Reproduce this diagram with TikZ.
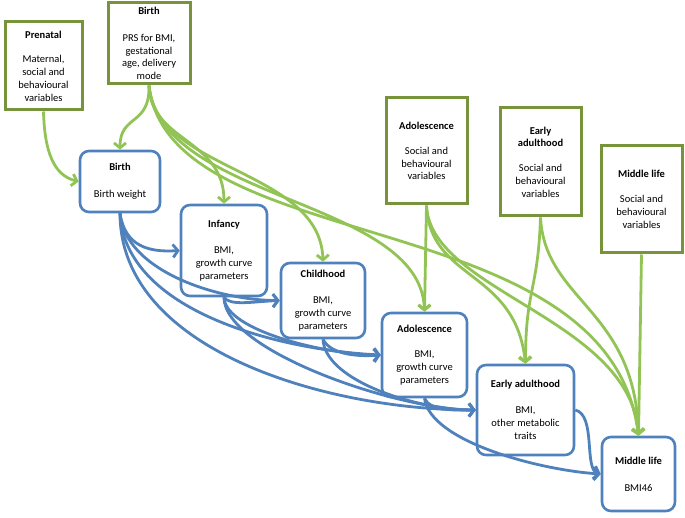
\documentclass[tikz,border=0pt]{standalone}
\usepackage{fontspec}
\setmainfont{Carlito}
\usetikzlibrary{arrows.meta}
\definecolor{boxgreen}{RGB}{119,147,60}
\definecolor{linegreen}{RGB}{146,196,85}
\definecolor{stageblue}{RGB}{79,129,189}
\tikzset{
    factor/.style={draw=boxgreen,line width=3pt,fill=white,align=center,inner sep=0pt,font=\fontsize{10.5}{12.8}\selectfont},
    stage/.style={draw=stageblue,line width=2.6pt,rounded corners=9pt,fill=white,align=center,inner sep=0pt,font=\fontsize{10.5}{12.8}\selectfont},
    greenlink/.style={draw=linegreen,line width=2.8pt,-{Straight Barb[length=5pt,width=12pt]}},
    bluelink/.style={draw=stageblue,line width=2.8pt,-{Straight Barb[length=5pt,width=13pt]}}
}
\begin{document}
\begin{tikzpicture}[x=1pt,y=-1pt]
        \useasboundingbox (0,0) rectangle (685,518);

        \node[factor,minimum width=77,minimum height=88] (prenatal) at (43.5,66) {\textbf{Prenatal}\\[12pt]Maternal,\\social and\\behavioural\\variables};
        \node[factor,minimum width=82,minimum height=81] (birthF) at (149,43.5) {\textbf{Birth}\\[14pt]PRS for BMI,\\gestational\\age, delivery\\mode};
        \node[factor,minimum width=81,minimum height=106] (adolF) at (426.5,151) {\textbf{Adolescence}\\[12pt]Social and\\behavioural\\variables};
        \node[factor,minimum width=81,minimum height=108] (earlyF) at (540.5,162) {\textbf{Early}\\\textbf{adulthood}\\[12pt]Social and\\behavioural\\variables};
        \node[factor,minimum width=81,minimum height=107] (middleF) at (641.5,199.5) {\textbf{Middle life}\\[12pt]Social and\\behavioural\\variables};

        \node[stage,minimum width=80,minimum height=61] (birthS) at (120,181.5) {\textbf{Birth}\\[14pt]Birth weight};
        \node[stage,minimum width=86,minimum height=91] (infancyS) at (224,250.5) {\textbf{Infancy}\\[13pt]BMI,\\growth curve\\parameters};
        \node[stage,minimum width=84,minimum height=75] (childS) at (323,300.5) {\textbf{Childhood}\\[13pt]BMI,\\growth curve\\parameters};
        \node[stage,minimum width=85,minimum height=84] (adolS) at (424.5,355) {\textbf{Adolescence}\\[13pt]BMI,\\growth curve\\parameters};
        \node[stage,minimum width=97,minimum height=90] (earlyS) at (525.5,410) {\textbf{Early adulthood}\\[13pt]BMI,\\other metabolic\\traits};
        \node[stage,minimum width=73,minimum height=74] (middleS) at (638.5,474) {\textbf{Middle life}\\[14pt]BMI46};

        \draw[greenlink] (prenatal.south) .. controls +(1,40) and +(-25,-6) .. (birthS.west);
        \draw[greenlink] (birthF.south) .. controls +(1,41) and +(0,-36) .. (birthS.north);
        \draw[greenlink] (birthF.south) .. controls +(1,56) and +(0,-65) .. (infancyS.north);
        \draw[greenlink] (birthF.south) .. controls +(6,86) and +(-3,-93) .. (childS.north);
        \draw[greenlink] (birthF.south) .. controls +(11,116) and +(-4,-113) .. (adolS.north);
        \draw[greenlink] (birthF.south) .. controls +(20,175) and +(-30,-235) .. (middleS.north);
        \draw[greenlink] (adolF.south) -- (adolS.north);
        \draw[greenlink] (adolF.south) .. controls +(3.5,76) and +(-10.5,-95) .. (earlyS.north);
        \draw[greenlink] (adolF.south) .. controls +(3.5,86) and +(-8.5,-117) .. (middleS.north);
        \draw[greenlink] (earlyF.south) .. controls +(-2.5,74) and +(0,-75) .. (earlyS.north);
        \draw[greenlink] (earlyF.south) .. controls +(4.5,84) and +(-3.5,-127) .. (middleS.north);
        \draw[greenlink] (middleF.south) -- (middleS.north);

        \draw[bluelink] (birthS.south) .. controls +(5,33) and +(-31,2) .. (infancyS.west);
        \draw[bluelink] (birthS.south) .. controls +(5,58) and +(-61,0) .. (childS.west);
        \draw[bluelink] (birthS.south) .. controls +(5,98) and +(-102,-5) .. (adolS.west);
        \draw[bluelink] (birthS.south) .. controls +(0,138) and +(-147,0) .. (earlyS.west);
        \draw[bluelink] (infancyS.south) .. controls +(6,9) and +(-26,1) .. (childS.west);
        \draw[bluelink] (infancyS.south) .. controls +(1,34) and +(-52,0) .. (adolS.west);
        \draw[bluelink] (infancyS.south) .. controls +(0,54) and +(-77,0) .. (earlyS.west);
        \draw[bluelink] (childS.south) .. controls +(7,14) and +(-27,2) .. (adolS.west);
        \draw[bluelink] (childS.south) .. controls +(2,42) and +(-57,0) .. (earlyS.west);
        \draw[bluelink] (adolS.south) .. controls +(5.5,13) and +(-22,0) .. (earlyS.west);
        \draw[bluelink] (adolS.south) .. controls +(5.5,43) and +(-62,-4) .. (middleS.west);
        \draw[bluelink] (earlyS.east) .. controls +(21,5) and +(-17,-4) .. (middleS.west);
\end{tikzpicture}
\end{document}
